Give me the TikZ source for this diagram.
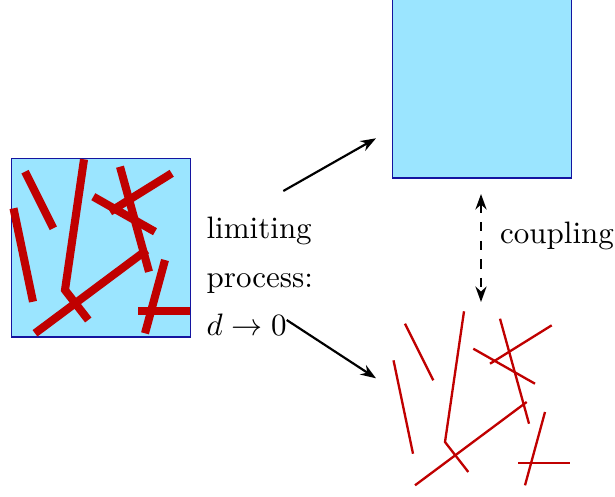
\documentclass[tikz,border=0pt]{standalone}
\usetikzlibrary{arrows.meta}
\definecolor{fibrered}{RGB}{192,0,0}
\definecolor{cellblue}{RGB}{155,229,255}
\definecolor{cellborder}{RGB}{20,20,160}
\newcommand{\fibrepaths}{%
  \draw[fibre] (2.5,50.8) -- (22,144.2);
  \draw[fibre] (14,14.2) -- (42.3,70.8);
  \draw[fibre] (73,1.8) -- (54,132.5) -- (77.3,162.5);
  \draw[fibre] (24,175.8) -- (135.7,92.5);
  \draw[fibre] (109,9.2) -- (138,114.2);
  \draw[fibre] (99,54.2) -- (160.7,15.8);
  \draw[fibre] (82.3,39.2) -- (144,74.2);
  \draw[fibre] (154,102.5) -- (134,175.8);
  \draw[fibre] (127.3,153.2) -- (179,153.2);
}
\begin{document}
\begin{tikzpicture}[x=0.3225pt,y=-0.3225pt,
  cell/.style={draw=cellborder, fill=cellblue, minimum size=57.7pt, inner sep=0pt, anchor=north west},
  fibre/.style={draw=fibrered},
  flow/.style={-{Stealth[length=5pt,width=3.6pt]}, line width=0.7pt},
  couple/.style={{Stealth[length=5pt,width=3.6pt]}-{Stealth[length=5pt,width=3.6pt]}, line width=0.7pt, dashed}]
\useasboundingbox (0,0) rectangle (615,496);
\node[cell] (micro) at (11,157.5) {};
\node[cell] (macro) at (392,-1.5) {};
\coordinate (fibres) at (391,309.5);
\begin{scope}[shift={(micro.north west)}, line width=2.6pt]
  \fibrepaths
\end{scope}
\begin{scope}[shift={(fibres)}, line width=0.75pt]
  \fibrepaths
\end{scope}
\node[align=left, anchor=north west, inner sep=0pt] (limit) at (206,216.8) {limiting\\[3.5pt] process:\\[3.5pt] $d\to0$};
\node[anchor=base west, inner sep=0pt] (coupl) at (499.5,243.3) {coupling};
\coordinate (up0) at (283.3,191);
\coordinate (up1) at (376,138.3);
\coordinate (dn0) at (286.7,320);
\coordinate (dn1) at (376,378.3);
\coordinate (cp0) at (481,194);
\coordinate (cp1) at (481,302);
\draw[flow] (up0) -- (up1);
\draw[flow] (dn0) -- (dn1);
\draw[couple] (cp0) -- (cp1);
\end{tikzpicture}
\end{document}
